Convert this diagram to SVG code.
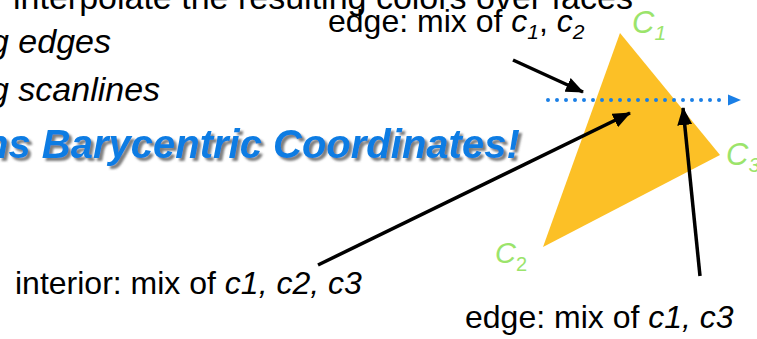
<svg xmlns="http://www.w3.org/2000/svg" width="757" height="339" viewBox="0 0 757 339">
<style>
.t{font-family:"Liberation Sans",Arial,sans-serif;fill:#000}
.i{font-style:italic}
.g{font-family:"Liberation Sans",Arial,sans-serif;font-style:italic;fill:#9be46b}
.title{font-family:"Liberation Sans",Arial,sans-serif;font-style:italic;font-weight:bold;font-size:40px;fill:#0b7ce3}
.arr{stroke:#000;stroke-width:3.5;fill:none}
</style>
<defs>
<marker id="ah" markerUnits="userSpaceOnUse" markerWidth="19" markerHeight="15" refX="17" refY="7.5" orient="auto">
<path d="M0,0 L18,7.5 L0,15 Z" fill="#000"/>
</marker>
<filter id="sh" x="-5%" y="-20%" width="110%" height="150%">
<feGaussianBlur in="SourceAlpha" stdDeviation="1.2"/>
<feOffset dx="2.5" dy="2.5" result="b"/>
<feFlood flood-color="#555" flood-opacity="0.75"/>
<feComposite in2="b" operator="in"/>
<feMerge><feMergeNode/><feMergeNode in="SourceGraphic"/></feMerge>
</filter>
</defs>
<g id="bullets">
<text class="t" x="13" y="9" font-size="34">interpolate the resulting colors over faces</text>
<text class="t i" x="-10" y="53" font-size="34">g edges</text>
<text class="t i" x="-10" y="101" font-size="34">g scanlines</text>
<text class="title" x="-16" y="158" filter="url(#sh)">ns Barycentric Coordinates!</text>
</g>
<g id="triangle">
<polygon points="620,33 720,155 543,247" fill="#fcc026"/>
</g>
<g id="vertex-labels">
<text class="g" x="632" y="33" font-size="31">C<tspan font-size="21" dy="7">1</tspan></text>
<text class="g" x="726" y="165" font-size="31">C<tspan font-size="21" dy="7">3</tspan></text>
<text class="g" x="495" y="263" font-size="29">C<tspan font-size="20" dy="8" font-style="normal">2</tspan></text>
</g>
<g id="scanline">
<line x1="548" y1="100" x2="728" y2="100" stroke="#1a7fe6" stroke-width="4" stroke-linecap="round" stroke-dasharray="0 9"/>
<path d="M728,94.5 L741,100 L728,105.5 Z" fill="#1a7fe6"/>
</g>
<g id="labels">
<text class="t" x="328" y="32" font-size="32">edge: mix of <tspan class="i">c</tspan><tspan class="i" font-size="21" dy="7">1</tspan><tspan dy="-7">, </tspan><tspan class="i">c</tspan><tspan class="i" font-size="21" dy="7">2</tspan></text>
<text class="t" x="15" y="294" font-size="32">interior: mix of <tspan class="i">c1, c2, c3</tspan></text>
<text class="t" x="465" y="328" font-size="32">edge: mix of <tspan class="i">c1, c3</tspan></text>
</g>
<g id="connectors">
<line class="arr" x1="513" y1="60" x2="583" y2="92" marker-end="url(#ah)"/>
<line class="arr" x1="318" y1="265" x2="630" y2="113" marker-end="url(#ah)"/>
<line class="arr" x1="700" y1="276" x2="683" y2="108" marker-end="url(#ah)"/>
</g>
</svg>
